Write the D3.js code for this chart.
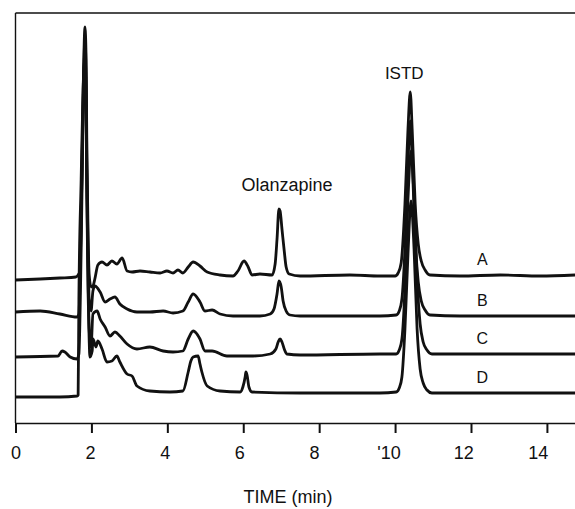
<!DOCTYPE html>
<html>
<head>
<meta charset="utf-8">
<script src="https://cdn.jsdelivr.net/npm/d3@7"></script>
<style>
  body { margin: 0; background: #fff; }
  text { font-family: "Liberation Sans", Arial, Helvetica, sans-serif; fill: #111; }
</style>
</head>
<body>
<svg id="chart" width="575" height="509"></svg>
<script>
"use strict";

// retention time axis (min)
const tickValues = [0, 2, 4, 6, 8, 10, 12, 14];
const timeMax = 14.74;
const signalMax = 410;

// chromatograms, [time (min), detector response]
const traceA = [[0.00,143],[0.65,144],[1.17,145],[1.59,146],[1.65,148],[1.70,152],[1.73,204],[1.78,324],[1.83,396],[1.86,364],[1.88,274],[1.91,194],[1.94,149],[1.99,136],[2.04,137],[2.09,144],[2.17,158],[2.28,161],[2.41,158],[2.54,162],[2.67,159],[2.81,165],[2.94,152],[3.07,151],[3.28,152],[3.54,151],[3.81,150],[3.99,152],[4.15,150],[4.28,153],[4.41,150],[4.55,156],[4.68,161],[4.86,157],[5.05,151],[5.39,148],[5.73,147],[5.86,152],[6.02,162],[6.13,156],[6.23,148],[6.44,149],[6.76,148],[6.84,159],[6.89,184],[6.94,214],[6.97,212],[7.02,194],[7.08,172],[7.13,156],[7.21,149],[7.50,147],[8.81,148],[9.60,147],[10.00,147],[10.08,150],[10.16,160],[10.26,219],[10.34,294],[10.40,331],[10.45,294],[10.53,219],[10.61,179],[10.69,162],[10.79,153],[10.92,148],[11.71,147],[12.77,148],[13.82,147],[14.74,148]];
const traceB = [[0.00,111],[0.65,112],[1.17,109],[1.62,106],[1.67,109],[1.73,204],[1.78,314],[1.83,384],[1.86,344],[1.88,254],[1.91,174],[1.94,124],[1.99,112],[2.04,132],[2.09,137],[2.23,131],[2.36,121],[2.49,124],[2.62,126],[2.75,119],[2.94,114],[3.20,111],[3.54,111],[3.89,112],[4.15,110],[4.41,112],[4.55,121],[4.68,129],[4.86,121],[4.99,112],[5.18,113],[5.39,109],[5.73,107],[6.44,107],[6.71,109],[6.81,114],[6.89,129],[6.94,142],[7.00,136],[7.05,122],[7.13,112],[7.23,108],[7.50,107],[9.60,107],[10.03,108],[10.11,112],[10.18,124],[10.26,174],[10.34,259],[10.40,302],[10.45,264],[10.53,184],[10.61,141],[10.69,122],[10.79,113],[10.92,108],[11.71,107],[14.74,107]];
const traceC = [[0.00,66],[1.12,67],[1.23,72],[1.30,71],[1.44,66],[1.62,64],[1.67,69],[1.73,174],[1.78,304],[1.83,374],[1.86,324],[1.88,234],[1.91,154],[1.94,94],[1.99,76],[2.04,109],[2.15,112],[2.23,104],[2.36,96],[2.49,87],[2.62,91],[2.75,87],[2.94,79],[3.20,74],[3.54,76],[3.89,72],[4.15,71],[4.41,72],[4.55,84],[4.68,92],[4.86,84],[4.99,72],[5.18,72],[5.57,67],[6.26,67],[6.71,69],[6.86,74],[6.92,81],[6.97,84],[7.02,81],[7.08,74],[7.15,69],[7.50,68],[9.60,69],[10.03,69],[10.11,73],[10.18,84],[10.26,134],[10.34,224],[10.42,272],[10.50,224],[10.58,144],[10.66,99],[10.74,81],[10.84,73],[10.97,69],[14.74,69]];
const traceD = [[0.00,26],[1.17,26],[1.62,27],[1.65,28],[1.67,124],[1.73,244],[1.78,334],[1.83,364],[1.86,314],[1.88,224],[1.91,134],[1.94,84],[1.96,66],[2.02,72],[2.04,84],[2.12,76],[2.17,82],[2.28,74],[2.41,61],[2.54,62],[2.67,67],[2.75,61],[2.94,49],[3.07,47],[3.20,37],[3.54,32],[4.07,31],[4.41,32],[4.55,51],[4.62,62],[4.68,66],[4.81,67],[4.86,59],[4.91,51],[5.05,37],[5.39,32],[5.92,31],[5.99,36],[6.05,46],[6.07,51],[6.10,48],[6.15,36],[6.23,31],[7.50,30],[9.60,30],[10.03,31],[10.11,35],[10.18,46],[10.26,94],[10.34,169],[10.42,222],[10.50,174],[10.58,94],[10.66,54],[10.74,40],[10.84,33],[10.97,30],[14.74,30]];

const traceNames = ["A", "B", "C", "D"];
const traces = [traceA, traceB, traceC, traceD];
const traceLabelTime = 12.3;

const peakNames = ["Olanzapine", "ISTD"];
const peakTimes = [6.94, 10.40];

const svg = d3.select("#chart");
const margin = {left: 15.5, top: 13, bottom: 423};

const xScale = d3.scaleLinear().domain([0, timeMax]).range([margin.left, 575]);
const yScale = d3.scaleLinear().domain([0, signalMax]).range([margin.bottom, margin.top]);

// frame: top and left edges
svg.append("line")
    .attr("x1", margin.left).attr("x2", 575)
    .attr("y1", margin.top).attr("y2", margin.top)
    .attr("stroke", "#111").attr("stroke-width", 1.4);
svg.append("line")
    .attr("x1", margin.left).attr("x2", margin.left)
    .attr("y1", margin.top).attr("y2", margin.bottom)
    .attr("stroke", "#111").attr("stroke-width", 1.4);

// time axis
const axis = d3.axisBottom(xScale)
    .tickValues(tickValues)
    .tickSize(10)
    .tickSizeOuter(0)
    .tickFormat(d => d === 10 ? "'10" : d);
const gAxis = svg.append("g")
    .attr("transform", "translate(0," + margin.bottom + ")")
    .call(axis);
gAxis.select(".domain").attr("stroke", "#111").attr("stroke-width", 1.6);
gAxis.selectAll(".tick line").attr("stroke", "#111").attr("stroke-width", 2);
gAxis.selectAll(".tick text")
    .attr("y", 23)
    .attr("dx", d => -0.65 * d)
    .style("font-size", "18px")
    .style("font-family", '"Liberation Sans", Arial, sans-serif')
    .attr("fill", "#111");

svg.append("text")
    .attr("x", 288).attr("y", 503)
    .attr("text-anchor", "middle")
    .style("font-size", "18px")
    .text("TIME (min)");

// chromatogram lines
const line = d3.line()
    .x(d => xScale(d[0]))
    .y(d => yScale(d[1]))
    .curve(d3.curveMonotoneX);

svg.selectAll("path.trace")
    .data(traces)
    .join("path")
    .attr("class", "trace")
    .attr("d", line)
    .attr("fill", "none")
    .attr("stroke", "#111")
    .attr("stroke-width", 2.8)
    .attr("stroke-linejoin", "round");

// trace letters, just above each baseline
svg.selectAll("text.trace-label")
    .data(traceNames)
    .join("text")
    .attr("class", "trace-label")
    .attr("x", xScale(traceLabelTime))
    .attr("y", (d, i) => yScale(traces[i][traces[i].length - 1][1]) - 10)
    .attr("text-anchor", "middle")
    .style("font-size", "16px")
    .text(d => d);

// peak names over trace A
function peakTop(t) {
    return d3.max(traceA.filter(p => Math.abs(p[0] - t) < 0.1), p => p[1]);
}
const peakDx = [8, -6];
const peakDy = [18, 13];
svg.selectAll("text.peak-label")
    .data(peakNames)
    .join("text")
    .attr("class", "peak-label")
    .attr("x", (d, i) => xScale(peakTimes[i]) + peakDx[i])
    .attr("y", (d, i) => yScale(peakTop(peakTimes[i])) - peakDy[i])
    .attr("text-anchor", "middle")
    .style("font-size", (d, i) => i === 0 ? "18px" : "17px")
    .text(d => d);
</script>
</body>
</html>
